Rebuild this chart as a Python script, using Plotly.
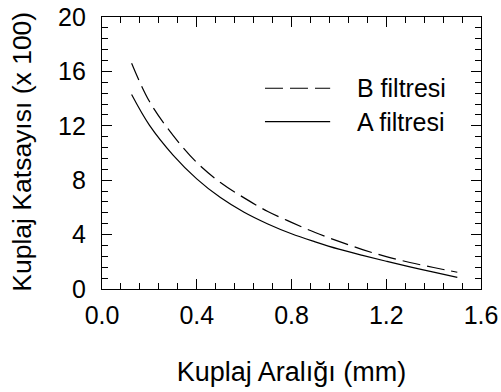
import plotly.graph_objects as go

# Data
x_vals = [0.125, 0.2, 0.3, 0.4, 0.5, 0.6, 0.7, 0.8, 0.9, 1.0, 1.1, 1.2, 1.3, 1.4, 1.5]
a_filtresi = [14.3, 12.05, 9.85, 8.1, 6.72, 5.64, 4.78, 4.06, 3.47, 2.93, 2.47, 2.04, 1.63, 1.24, 0.85]
b_filtresi = [16.6, 13.8, 11.3, 9.3, 7.83, 6.7, 5.7, 4.9, 4.15, 3.5, 2.9, 2.38, 1.95, 1.58, 1.23]

x_ticks = [0.0, 0.4, 0.8, 1.2, 1.6]
y_ticks = [0, 4, 8, 12, 16, 20]

FONT = "Liberation Sans, Arial, sans-serif"

fig = go.Figure()
fig.add_trace(go.Scatter(x=x_vals, y=b_filtresi, mode="lines", name="B filtresi",
                         line=dict(color="black", width=1.2, dash="18px,7px", shape="spline", smoothing=1.0),
                         showlegend=False))
fig.add_trace(go.Scatter(x=x_vals, y=a_filtresi, mode="lines", name="A filtresi",
                         line=dict(color="black", width=1.2, shape="spline", smoothing=1.0),
                         showlegend=False))

# Custom legend (line samples + labels)
leg = [("B filtresi", "18px,7px", 0.738), ("A filtresi", "solid", 0.615)]
for label, dash, yp in leg:
    fig.add_shape(type="line", xref="paper", yref="paper", x0=0.430, x1=0.602, y0=yp, y1=yp,
                  line=dict(color="black", width=1.2, dash=dash))
    fig.add_annotation(xref="paper", yref="paper", x=0.668, y=yp, text=label, showarrow=False,
                       xanchor="left", yanchor="middle",
                       font=dict(family=FONT, size=25, color="black"))

# Y axis title as a rotated annotation for exact placement
fig.add_annotation(xref="paper", yref="paper", x=-0.211, y=0.505, text="Kuplaj Katsayısı (x 100)",
                   textangle=-90, showarrow=False, xanchor="center", yanchor="middle",
                   font=dict(family=FONT, size=26.5, color="black"))

axis_common = dict(showgrid=False, zeroline=False, showline=True, linecolor="black", linewidth=1.2,
                   mirror="allticks", ticks="inside", ticklen=10, tickwidth=1.2, tickcolor="black",
                   automargin=False,
                   tickfont=dict(family=FONT, size=25, color="black"))

fig.update_xaxes(range=[0, 1.6], tickvals=x_ticks, ticktext=[f"{v:.1f}" for v in x_ticks],
                 ticklabelstandoff=4,
                 minor=dict(dtick=0.08, tick0=0, ticks="inside", ticklen=6, tickwidth=1.2, tickcolor="black"),
                 title=dict(text="Kuplaj Aralığı (mm)", font=dict(family=FONT, size=27, color="black"),
                            standoff=34),
                 **axis_common)
fig.update_yaxes(range=[0, 20], tickvals=y_ticks, ticktext=[str(v) for v in y_ticks],
                 ticklabelstandoff=10,
                 minor=dict(dtick=0.8, tick0=0, ticks="inside", ticklen=6, tickwidth=1.2, tickcolor="black"),
                 **axis_common)

fig.update_layout(width=501, height=392, margin=dict(l=102, r=20, t=17, b=103),
                  paper_bgcolor="white", plot_bgcolor="white", showlegend=False)

fig.write_html("out.html")
